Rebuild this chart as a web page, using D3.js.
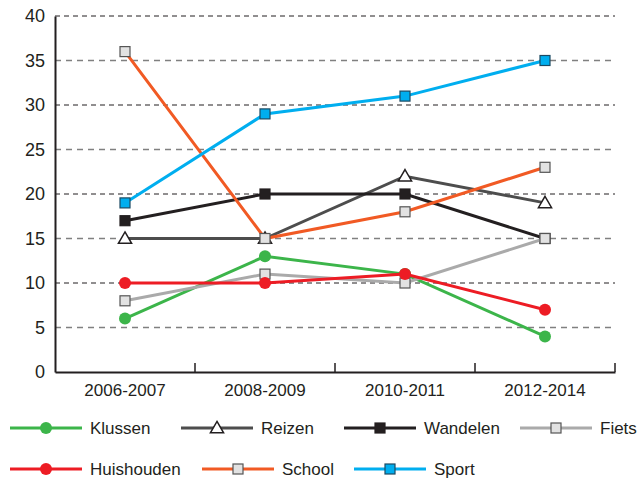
<!DOCTYPE html>
<html>
<head>
<meta charset="utf-8">
<style>
  body { margin: 0; background: #fff; }
  text { font-family: "Liberation Sans", Arial, sans-serif; fill: #231f20; }
</style>
</head>
<body>
<svg class="chart" width="639" height="479"></svg>
<script src="https://cdn.jsdelivr.net/npm/d3@7/dist/d3.min.js"></script>
<script>
  var periods = ["2006-2007", "2008-2009", "2010-2011", "2012-2014"];
  var yTicks = [0, 5, 10, 15, 20, 25, 30, 35, 40];

  var names = ["Klussen", "Reizen", "Wandelen", "Fiets", "Huishouden", "School", "Sport"];
  var klussen    = [6, 13, 11, 4];
  var reizen     = [15, 15, 22, 19];
  var wandelen   = [17, 20, 20, 15];
  var fiets      = [8, 11, 10, 15];
  var huishouden = [10, 10, 11, 7];
  var school     = [36, 15, 18, 23];
  var sport      = [19, 29, 31, 35];
  var values = [klussen, reizen, wandelen, fiets, huishouden, school, sport];

  // line colour, marker type, marker fill, marker stroke
  var styles = {
    "Klussen":    { color: "#3cb54a", marker: "circle", fill: "#3cb54a", stroke: "none" },
    "Reizen":     { color: "#4d4d4d", marker: "triangle", fill: "#fff", stroke: "#231f20" },
    "Wandelen":   { color: "#231f20", marker: "square", fill: "#231f20", stroke: "#231f20" },
    "Fiets":      { color: "#aaaaaa", marker: "square", fill: "#e2e2e2", stroke: "#555" },
    "Huishouden": { color: "#ed1c24", marker: "circle", fill: "#ed1c24", stroke: "none" },
    "School":     { color: "#f15a24", marker: "square", fill: "#e2e2e2", stroke: "#555" },
    "Sport":      { color: "#00aeef", marker: "square", fill: "#00aeef", stroke: "#1c4a63" }
  };

  var plotLeft = 55, plotRight = 615, plotTop = 16, plotBottom = 372;

  var x = d3.scaleBand().domain(periods).range([plotLeft, plotRight]);
  var y = d3.scaleLinear().domain([0, 40]).range([plotBottom, plotTop]);

  var svg = d3.select(".chart");

  // grid lines, dark and grey alternating
  svg.append("g").selectAll("line")
      .data(yTicks.filter(function(d) { return d > 0; }))
    .enter().append("line")
      .attr("x1", plotLeft).attr("x2", plotRight)
      .attr("y1", function(d) { return y(d); })
      .attr("y2", function(d) { return y(d); })
      .attr("stroke", function(d) { return d % 10 == 0 ? "#231f20" : "#808080"; })
      .attr("stroke-width", function(d) { return d % 10 == 0 ? 1 : 1.5; })
      .attr("stroke-dasharray", function(d) { return d % 10 == 0 ? "5,4" : "6,5"; });

  // y axis
  var yAxis = d3.axisLeft(y).tickValues(yTicks).tickSize(0).tickPadding(10);
  var yg = svg.append("g")
    .attr("transform", "translate(" + plotLeft + ",0)")
    .call(yAxis);
  yg.select(".domain").attr("stroke", "#231f20").attr("stroke-width", 2);
  yg.selectAll("text").style("font-size", "18px").attr("fill", "#231f20");

  // x axis
  var xAxis = d3.axisBottom(x).tickSize(0).tickPadding(12);
  var xg = svg.append("g")
    .attr("transform", "translate(0," + plotBottom + ")")
    .call(xAxis);
  xg.select(".domain").attr("stroke", "#231f20").attr("stroke-width", 2);
  xg.selectAll("text").style("font-size", "17px").attr("fill", "#231f20");

  // band separator ticks pointing up
  svg.append("g").selectAll("line")
      .data(periods)
    .enter().append("line")
      .attr("x1", function(d) { return x(d) + x.bandwidth(); })
      .attr("x2", function(d) { return x(d) + x.bandwidth(); })
      .attr("y1", plotBottom).attr("y2", plotBottom - 9)
      .attr("stroke", "#231f20").attr("stroke-width", 1.5);

  function drawMarker(g, type, s, cx, cy, size) {
    if (type == "circle") {
      g.append("circle").attr("cx", cx).attr("cy", cy).attr("r", size * 0.6)
        .attr("fill", s.fill);
    } else if (type == "square") {
      var h = size / 2;
      g.append("rect").attr("x", cx - h).attr("y", cy - h)
        .attr("width", size).attr("height", size)
        .attr("fill", s.fill).attr("stroke", s.stroke).attr("stroke-width", 1.2);
    } else {
      var t = d3.symbol().type(d3.symbolTriangle).size(size * size * 0.75);
      g.append("path").attr("d", t())
        .attr("transform", "translate(" + cx + "," + (cy + 1) + ")")
        .attr("fill", s.fill).attr("stroke", s.stroke).attr("stroke-width", 1.5);
    }
  }

  var line = d3.line()
    .x(function(d, i) { return x(periods[i]) + x.bandwidth() / 2; })
    .y(function(d) { return y(d); });

  names.forEach(function(name, k) {
    var s = styles[name];
    var g = svg.append("g");
    g.append("path")
      .attr("d", line(values[k]))
      .attr("fill", "none")
      .attr("stroke", s.color)
      .attr("stroke-width", 3);
    values[k].forEach(function(v, i) {
      drawMarker(g, s.marker, s, x(periods[i]) + x.bandwidth() / 2, y(v), 10);
    });
  });

  // legend
  var legendPos = [
    [10, 428], [181, 428], [344, 428], [520, 428],
    [10, 469], [202, 469], [354, 469]
  ];
  names.forEach(function(name, k) {
    var s = styles[name];
    var p = legendPos[k];
    var g = svg.append("g").attr("transform", "translate(" + p[0] + "," + p[1] + ")");
    g.append("line").attr("x1", 0).attr("x2", 72).attr("y1", 0).attr("y2", 0)
      .attr("stroke", s.color).attr("stroke-width", 3);
    drawMarker(g, s.marker, s, 36, 0, 10);
    g.append("text").attr("x", 80).attr("y", 6)
      .style("font-size", "17px").text(name);
  });
</script>
</body>
</html>
